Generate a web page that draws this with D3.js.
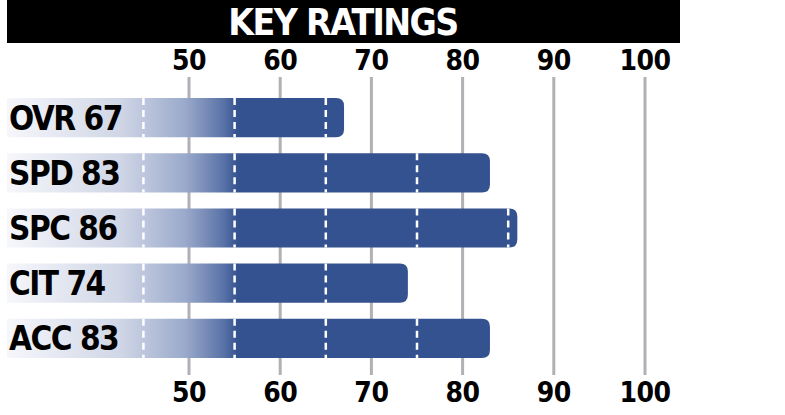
<!DOCTYPE html>
<html>
<head>
<meta charset="utf-8">
<script src="https://cdn.jsdelivr.net/npm/d3@7.9.0/dist/d3.min.js"></script>
<style>
  body { margin: 0; background: #fff; }
  svg { display: block; }
  .lbl { font-family: "DejaVu Sans Condensed", "DejaVu Sans", sans-serif; font-weight: bold; }
</style>
</head>
<body>
<svg id="chart" width="785" height="415"></svg>
<script>
const title = 'KEY RATINGS';
const categories = ['OVR', 'SPD', 'SPC', 'CIT', 'ACC'];
const ratings = [67, 83, 86, 74, 83];
const tickValues = [50, 60, 70, 80, 90, 100];
const dashValues = [45, 55, 65, 75, 85];

const svg = d3.select('#chart');
const barLeft = 7;

const x = d3.scaleLinear().domain([50, 100]).range([189, 645]);
const y = d3.scaleBand().domain(categories).range([98, 358]).paddingInner(0.29).paddingOuter(0);

// gradient fill for bars (light on the left, full blue from ~55)
const gradStops = [
  [barLeft, '#f6f7fb'],
  [120, '#d0d6e6'],
  [145, '#bcc5dc'],
  [185, '#9aaacb'],
  [205, '#7a8db8'],
  [225, '#5670a6'],
  [238, '#34528f']
];
const defs = svg.append('defs');
const grad = defs.append('linearGradient')
  .attr('id', 'barGrad')
  .attr('gradientUnits', 'userSpaceOnUse')
  .attr('x1', barLeft).attr('x2', 238).attr('y1', 0).attr('y2', 0);
grad.selectAll('stop')
  .data(gradStops)
  .join('stop')
  .attr('offset', d => (d[0] - barLeft) / (238 - barLeft))
  .attr('stop-color', d => d[1]);

// title bar
svg.append('rect')
  .attr('x', 7).attr('y', 0).attr('width', 673).attr('height', 43)
  .attr('fill', '#000');
svg.append('text')
  .attr('class', 'lbl')
  .attr('x', 343).attr('y', 35)
  .attr('text-anchor', 'middle')
  .attr('fill', '#fff')
  .attr('font-size', 37)
  .attr('letter-spacing', -1.6)
  .text(title);

// gridlines
svg.append('g')
  .selectAll('line')
  .data(tickValues)
  .join('line')
  .attr('x1', d => x(d)).attr('x2', d => x(d))
  .attr('y1', 77).attr('y2', 375)
  .attr('stroke', '#b1b1b5')
  .attr('stroke-width', 3);

// bars with rounded right end
function barPath(d, i) {
  const x0 = barLeft, x1 = x(ratings[i]);
  const y0 = y(d), h = y.bandwidth(), r = 8;
  return `M${x0},${y0}H${x1 - r}Q${x1},${y0} ${x1},${y0 + r}V${y0 + h - r}Q${x1},${y0 + h} ${x1 - r},${y0 + h}H${x0}Z`;
}
svg.append('g')
  .selectAll('path')
  .data(categories)
  .join('path')
  .attr('d', barPath)
  .attr('fill', 'url(#barGrad)');

// white dashed marks inside bars
const dashG = svg.append('g');
categories.forEach((c, i) => {
  dashG.selectAll(null)
    .data(dashValues.filter(v => v < ratings[i]))
    .join('line')
    .attr('x1', v => x(v)).attr('x2', v => x(v))
    .attr('y1', y(c)).attr('y2', y(c) + y.bandwidth())
    .attr('stroke', '#fff')
    .attr('stroke-width', 2.5)
    .attr('stroke-dasharray', '7,5');
});

// row labels
svg.append('g')
  .selectAll('text')
  .data(categories)
  .join('text')
  .attr('class', 'lbl')
  .attr('x', 9)
  .attr('y', d => y(d) + y.bandwidth() / 2 + 12)
  .attr('font-size', 33)
  .attr('letter-spacing', -1.5)
  .attr('fill', '#000')
  .text((d, i) => `${d} ${ratings[i]}`);

// top and bottom axis labels
[70, 402].forEach(baseline => {
  svg.append('g')
    .selectAll('text')
    .data(tickValues)
    .join('text')
    .attr('class', 'lbl')
    .attr('x', d => x(d))
    .attr('y', baseline)
    .attr('text-anchor', 'middle')
    .attr('font-size', 28)
    .attr('letter-spacing', -0.5)
    .attr('fill', '#000')
    .text(d => d);
});
</script>
</body>
</html>
